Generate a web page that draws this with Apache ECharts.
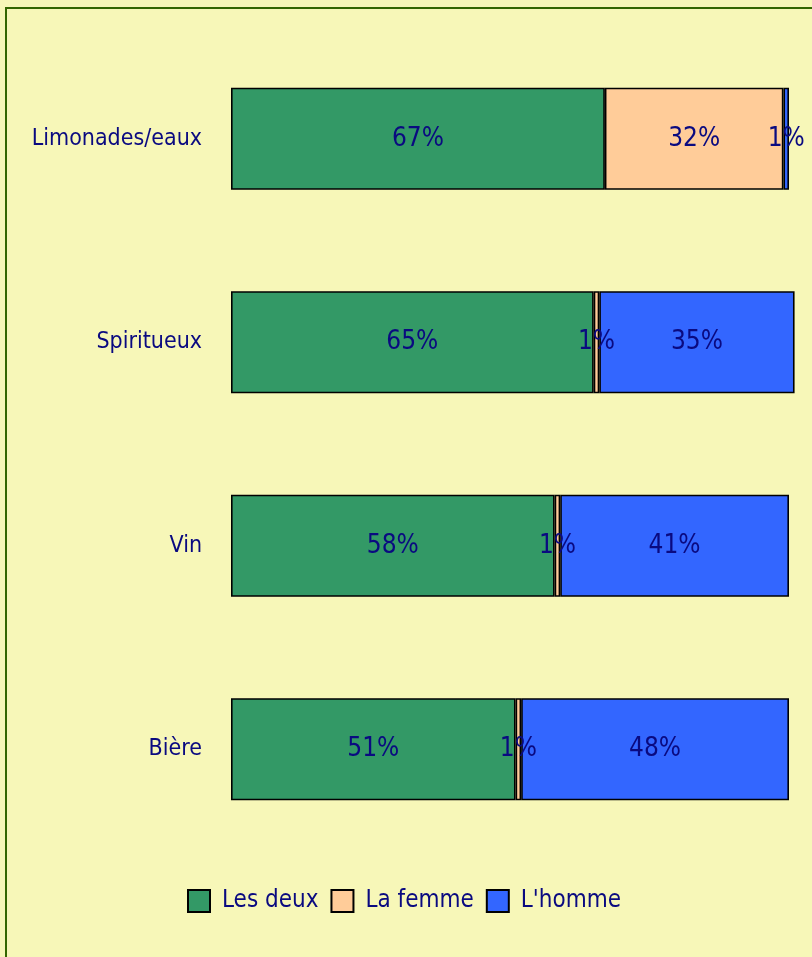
<!DOCTYPE html>
<html><head><meta charset="utf-8">
<script src="https://cdn.jsdelivr.net/npm/echarts@6/dist/echarts.min.js"></script>
<style>html,body{margin:0;padding:0;background:#F7F7B8;}#c{width:812px;height:957px;}</style>
</head><body><div id="c"></div>
<script>
var categories = ['Limonades/eaux', 'Spiritueux', 'Vin', 'Bière'];
var seriesNames = ['Les deux', 'La femme', "L'homme"];
var lesDeux = [67, 65, 58, 51];
var laFemme = [32, 1, 1, 1];
var lHomme = [1, 35, 41, 48];
var colors = ['#339966', '#FFCC99', '#3366FF'];
var FONT = '"Liberation Sans Narrow", "DejaVu Sans Condensed", sans-serif';
var TXT = '#0A0A80';

var chart = echarts.init(document.getElementById('c'), null, {renderer: 'canvas'});
function mk(name, data, color) {
  return {
    name: name, type: 'bar', stack: 'a', data: data, barWidth: 102, clip: false,
    itemStyle: {color: color, borderColor: '#000', borderWidth: 1.6},
    label: {show: true, position: 'inside', formatter: '{c}%', color: TXT,
      fontFamily: FONT, fontSize: 26},
    emphasis: {disabled: true}
  };
}
chart.setOption({
  backgroundColor: '#F7F7B8',
  animation: false,
  graphic: [{type: 'rect', shape: {x: 6, y: 8, width: 900, height: 1000},
    style: {fill: 'none', stroke: '#336600', lineWidth: 2}, z: 100}],
  grid: {left: 231, width: 558, top: 37, height: 814, outerBoundsMode: 'none', containLabel: false},
  xAxis: {type: 'value', min: 0, max: 100, show: false},
  yAxis: {type: 'category', data: categories, inverse: true,
    axisLine: {show: false}, axisTick: {show: false},
    axisLabel: {color: TXT, fontFamily: FONT, fontSize: 23, margin: 29}},
  legend: {left: 187, top: 889, padding: 0, itemWidth: 22, itemHeight: 22, itemGap: 12, icon: 'rect',
    data: seriesNames.map(function (n, i) { return {name: n, itemStyle: {color: colors[i], borderColor: '#000', borderWidth: 2}}; }),
    textStyle: {color: TXT, fontFamily: FONT, fontSize: 24, padding: [0, 0, 0, 7]}},
  series: [mk(seriesNames[0], lesDeux, colors[0]), mk(seriesNames[1], laFemme, colors[1]), mk(seriesNames[2], lHomme, colors[2])]
});
</script></body></html>
